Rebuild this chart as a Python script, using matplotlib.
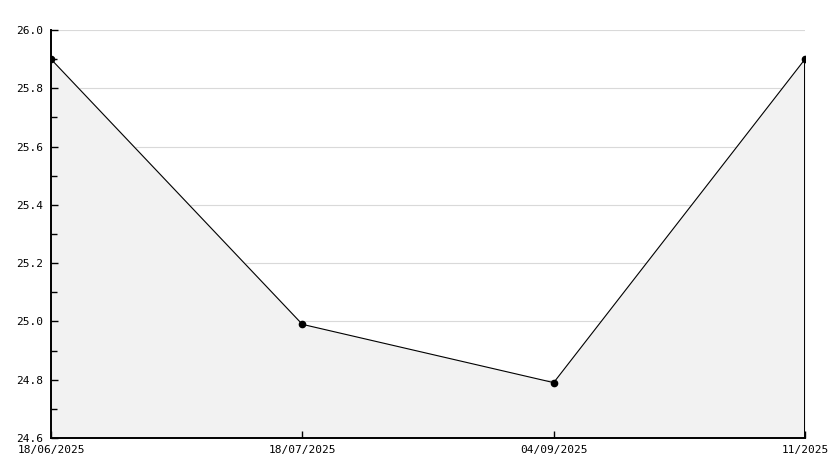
import numpy as np
import matplotlib
matplotlib.use("Agg")
import matplotlib.pyplot as plt
from matplotlib.ticker import MultipleLocator

dates = ["18/06/2025", "18/07/2025", "04/09/2025", "11/2025"]
values = [25.90, 24.99, 24.79, 25.90]

ymin, ymax = 24.6, 26.0
x = np.arange(len(dates))

fig = plt.figure(figsize=(8.34, 4.68), dpi=100)
ax = fig.add_axes([51/834, 30/468, (805-51)/834, (438-30)/468])

ax.set_xlim(x[0], x[-1])
ax.set_ylim(ymin, ymax)
ax.yaxis.set_major_locator(MultipleLocator(0.2))
ax.yaxis.set_minor_locator(MultipleLocator(0.1))
ax.yaxis.set_major_formatter(plt.FormatStrFormatter("%.1f"))
ax.set_xticks(x)
ax.set_xticklabels(dates)

# grid sits under the filled area, ticks stay on top
for yv in ax.get_yticks():
  ax.axhline(yv, color="#d9d9d9", lw=0.8, zorder=0.5)

ax.fill_between(x, values, ymin, color="#f2f2f2", zorder=1)
ax.plot(x, values, color="black", lw=0.8, zorder=3,
  marker="o", markersize=4.5)
# closing edge of the filled area on the right
ax.vlines(x[-1], ymin, values[-1], color="black", lw=1.4, zorder=3)

for s in ["top", "right"]:
  ax.spines[s].set_visible(False)
for s in ["left", "bottom"]:
  ax.spines[s].set_linewidth(1.4)
  ax.spines[s].set_zorder(4)

ax.tick_params(axis="both", which="major", direction="in", length=5,
  width=1, labelsize=8, colors="black")
ax.tick_params(axis="y", which="minor", direction="in", length=4, width=1)
ax.tick_params(axis="y", pad=6)
ax.tick_params(axis="x", pad=5)
for lab in ax.get_xticklabels() + ax.get_yticklabels():
  lab.set_family("DejaVu Sans Mono")

fig.savefig("out.png", dpi=100)
